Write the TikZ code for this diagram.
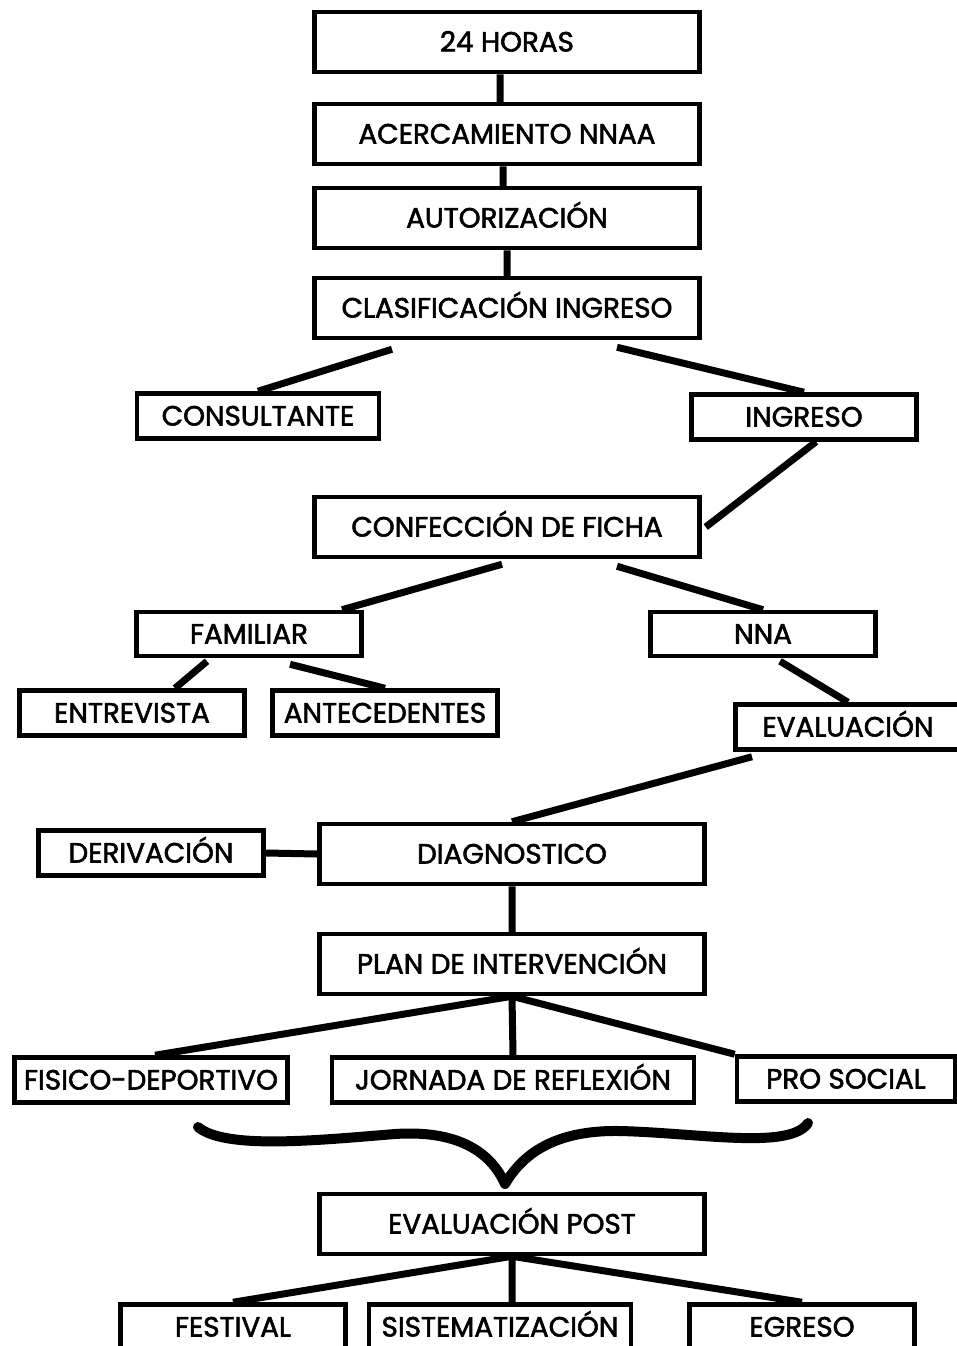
\documentclass[tikz,border=0pt]{standalone}
\usepackage{fontspec}
\setmainfont{Poppins}[FakeBold=2]
\usetikzlibrary{positioning}

\tikzset{
  box/.style={draw, line width=4.5pt, rectangle, inner sep=0pt,
    font=\fontsize{27.8}{31}\selectfont, text height=19pt, text depth=0pt},
  bigbox/.style={box, minimum width=385pt, minimum height=60pt},
  smallbox/.style={box, minimum width=225pt, minimum height=45pt},
  link/.style={line width=7pt}
}

\begin{document}
\begin{tikzpicture}[x=1pt,y=-1pt]
\useasboundingbox (0,0) rectangle (956,1346);
% main column
\node [bigbox] (h24) at (507,42) {24 HORAS};
\node [bigbox] (acerc) at (507,134) {ACERCAMIENTO NNAA};
\node [bigbox] (autor) at (507,218) {AUTORIZACIÓN};
\node [bigbox] (clasif) at (507,308) {CLASIFICACIÓN INGRESO};
\node [smallbox, minimum width=242pt] (consul) at (258,416) {CONSULTANTE};
\node [smallbox] (ingreso) at (804,417) {INGRESO};
\node [bigbox] (ficha) at (507,527) {CONFECCIÓN DE FICHA};
\node [smallbox, minimum height=44pt] (familiar) at (249,634) {FAMILIAR};
\node [smallbox, minimum height=44pt] (nna) at (763,634) {NNA};
\node [smallbox] (entrev) at (132,713) {ENTREVISTA};
\node [smallbox] (antec) at (385,713) {ANTECEDENTES};
\node [smallbox] (evalua) at (848,727) {EVALUACIÓN};
\node [smallbox] (deriv) at (151,853) {DERIVACIÓN};
\node [bigbox] (diag) at (512,854) {DIAGNOSTICO};
\node [bigbox] (plan) at (512,964) {PLAN DE INTERVENCIÓN};
\node [smallbox, minimum width=273pt] (fisico) at (151,1080) {FISICO-DEPORTIVO};
\node [smallbox, minimum width=362pt] (jornada) at (513,1080) {JORNADA DE REFLEXIÓN};
\node [smallbox, minimum width=218pt] (prosoc) at (846,1079) {PRO SOCIAL};
\node [bigbox] (evpost) at (512,1224) {EVALUACIÓN POST};
\node [smallbox] (festival) at (233,1327) {FESTIVAL};
\node [smallbox, minimum width=262pt] (sistem) at (500,1327) {SISTEMATIZACIÓN};
\node [smallbox] (egreso) at (802,1327) {EGRESO};

\draw [link]
([xshift=-7pt]h24.south) -- ([xshift=-7pt]acerc.north)
([xshift=-4pt]acerc.south) -- ([xshift=-4pt]autor.north)
(autor.south) -- (clasif.north)
([xshift=-115pt,yshift=-9pt]clasif.south) -- (consul.north)
([xshift=110pt,yshift=-7pt]clasif.south) -- (ingreso.north)
([xshift=12pt]ingreso.south) -- ([xshift=4pt]ficha.east)
([xshift=-5pt,yshift=-5pt]ficha.south) -- ([xshift=93pt]familiar.north)
([xshift=110pt,yshift=-7pt]ficha.south) -- (nna.north)
([xshift=-42pt,yshift=-3pt]familiar.south) -- ([xshift=43pt]entrev.north)
([xshift=41pt,yshift=-6pt]familiar.south) -- (antec.north)
([xshift=17pt,yshift=-3pt]nna.south) -- (evalua.north)
([xshift=-96pt,yshift=-5pt]evalua.south) -- (diag.north)
(deriv.east) -- (diag.west)
(diag.south) -- (plan.north)
(plan.south) -- ([xshift=4pt]fisico.north)
(plan.south) -- (jornada.north)
(plan.south) -- (prosoc.north west)
(evpost.south) -- (festival.north)
(evpost.south) -- ([xshift=12pt]sistem.north)
(evpost.south) -- (egreso.north)
;
% brace
\draw [line width=10pt, line cap=round, line join=round]
(198,1127) .. controls (225,1150) and (320,1140) .. (395,1134)
.. controls (455,1130) and (490,1150) .. (505,1184)
.. controls (525,1150) and (560,1130) .. (620,1131)
.. controls (700,1133) and (790,1150) .. (808,1123);
\end{tikzpicture}
\end{document}
